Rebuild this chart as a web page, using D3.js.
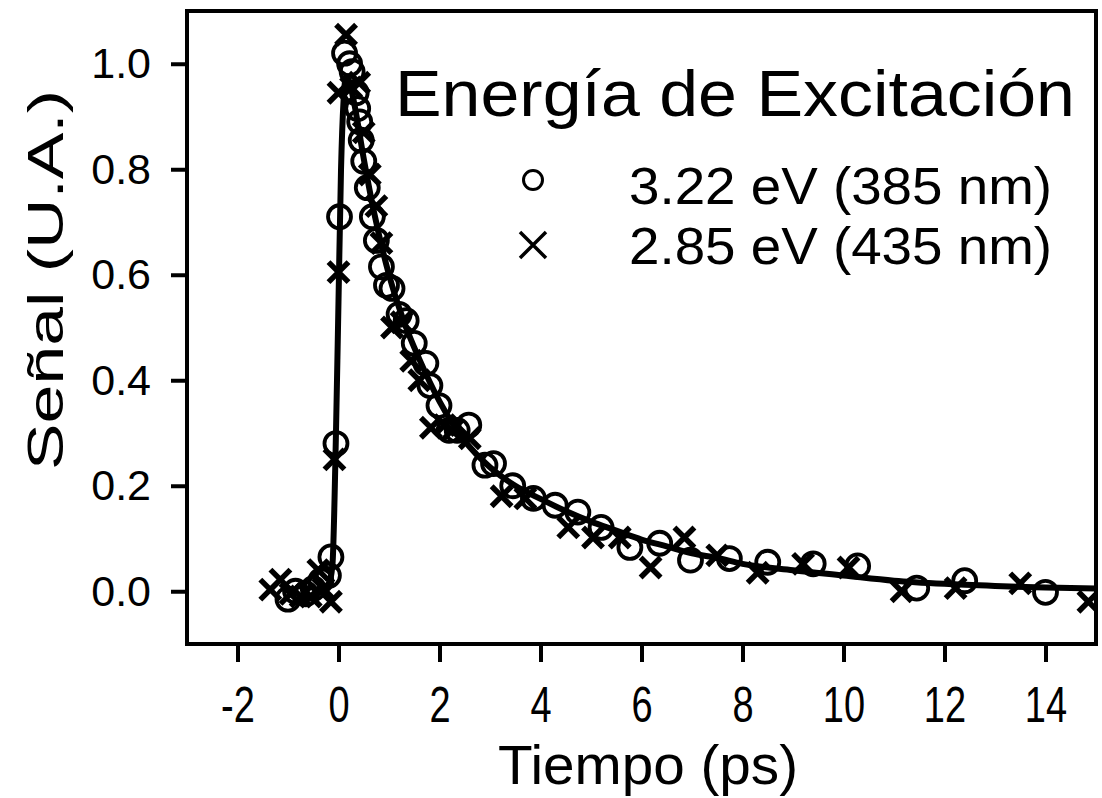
<!DOCTYPE html>
<html>
<head>
<meta charset="utf-8">
<script src="https://cdn.jsdelivr.net/npm/d3@7"></script>
<style>
  body { margin: 0; background: #fff; }
  svg text { font-family: "Liberation Sans", Arial, sans-serif; fill: #000; }
</style>
</head>
<body>
<svg id="chart" width="1102" height="798"></svg>
<script>
// 3.22 eV (385 nm) - circles
const circX = [-1.0, -0.85, -0.65, -0.5, -0.35, -0.2, -0.15, -0.05, 0.02, 0.12, 0.22, 0.27, 0.35, 0.38, 0.42, 0.45, 0.5, 0.57, 0.67, 0.75, 0.85, 0.95, 1.06, 1.2, 1.34, 1.5, 1.73, 1.81, 1.99, 2.19, 2.35, 2.58, 2.9, 3.07, 3.45, 3.86, 4.29, 4.74, 5.2, 5.77, 6.36, 6.97, 7.74, 8.5, 9.4, 10.28, 11.45, 12.4, 14.0];
const circY = [-0.015, 0.0, -0.005, 0.005, 0.02, 0.03, 0.065, 0.28, 0.71, 1.02, 1.0, 0.985, 0.945, 0.915, 0.89, 0.855, 0.815, 0.765, 0.71, 0.665, 0.615, 0.58, 0.574, 0.525, 0.513, 0.47, 0.432, 0.39, 0.352, 0.305, 0.305, 0.315, 0.239, 0.242, 0.2, 0.176, 0.163, 0.15, 0.121, 0.083, 0.091, 0.059, 0.062, 0.055, 0.052, 0.048, 0.006, 0.02, -0.002];

// 2.85 eV (435 nm) - crosses
const crossX = [-1.35, -1.15, -0.95, -0.75, -0.55, -0.4, -0.3, -0.15, -0.08, 0.0, 0.0, 0.15, 0.25, 0.41, 0.5, 0.62, 0.75, 0.85, 1.06, 1.25, 1.44, 1.6, 1.83, 2.1, 2.25, 2.6, 3.23, 3.7, 4.55, 5.04, 5.57, 6.18, 6.85, 7.5, 8.3, 9.2, 10.1, 11.15, 12.22, 13.5, 14.85];
const crossY = [0.003, 0.022, -0.005, -0.01, -0.01, 0.04, 0.005, -0.02, 0.25, 0.605, 0.945, 1.055, 0.955, 0.964, 0.87, 0.79, 0.73, 0.66, 0.5, 0.51, 0.437, 0.4, 0.31, 0.315, 0.305, 0.29, 0.18, 0.176, 0.121, 0.102, 0.102, 0.045, 0.102, 0.068, 0.035, 0.052, 0.045, 0.0, 0.006, 0.015, -0.02];

// fitted curve
const fitX = [-0.3, -0.2, -0.12, -0.05, 0.0, 0.05, 0.1, 0.15, 0.2, 0.3, 0.5, 0.7, 1.0, 1.3, 1.6, 2.0, 2.5, 3.0, 3.5, 4.0, 4.5, 5.0, 5.5, 6.0, 6.5, 7.0, 7.5, 8.0, 9.0, 10.0, 11.0, 12.0, 13.0, 14.0, 15.0];
const fitY = [0.0, 0.01, 0.05, 0.3, 0.55, 0.8, 0.93, 0.975, 0.97, 0.93, 0.82, 0.72, 0.6, 0.51, 0.44, 0.36, 0.285, 0.235, 0.2, 0.175, 0.152, 0.132, 0.115, 0.098, 0.085, 0.072, 0.063, 0.052, 0.04, 0.03, 0.02, 0.014, 0.01, 0.007, 0.005];

const xTicks = [-2, 0, 2, 4, 6, 8, 10, 12, 14];
const yTicks = [0.0, 0.2, 0.4, 0.6, 0.8, 1.0];
const legendLabels = ["3.22 eV (385 nm)", "2.85 eV (435 nm)"];

const svg = d3.select("#chart");
const margin = {left: 187, right: 6, top: 11, bottom: 154};
const width = 1102, height = 798;

const x = d3.scaleLinear().domain([-3, 15]).range([margin.left, width - margin.right]);
const y = d3.scaleLinear().domain([-0.1, 1.1]).range([height - margin.bottom, margin.top]);

const plot = svg.append("g");
plot.append("clipPath").attr("id", "clip")
  .append("rect")
  .attr("x", x(-3)).attr("y", y(1.1))
  .attr("width", x(15) - x(-3)).attr("height", y(-0.1) - y(1.1));

const marks = plot.append("g").attr("clip-path", "url(#clip)");

// fit line
const line = d3.line().x(d => x(d[0])).y(d => y(d[1])).curve(d3.curveMonotoneX);
marks.append("path")
  .datum(d3.zip(fitX, fitY))
  .attr("d", line)
  .attr("fill", "none")
  .attr("stroke", "#000")
  .attr("stroke-width", 6);

// circles
marks.append("g").selectAll("circle")
  .data(d3.zip(circX, circY))
  .join("circle")
  .attr("cx", d => x(d[0]))
  .attr("cy", d => y(d[1]))
  .attr("r", 11.5)
  .attr("fill", "none")
  .attr("stroke", "#000")
  .attr("stroke-width", 3.8);

// crosses
const cs = 10;
marks.append("g").selectAll("path")
  .data(d3.zip(crossX, crossY))
  .join("path")
  .attr("d", d => {
    const px = x(d[0]), py = y(d[1]);
    return `M${px - cs},${py - cs}L${px + cs},${py + cs}M${px - cs},${py + cs}L${px + cs},${py - cs}`;
  })
  .attr("stroke", "#000")
  .attr("stroke-width", 5.5)
  .attr("fill", "none");

// frame
plot.append("rect")
  .attr("x", x(-3)).attr("y", y(1.1))
  .attr("width", x(15) - x(-3)).attr("height", y(-0.1) - y(1.1))
  .attr("fill", "none")
  .attr("stroke", "#000")
  .attr("stroke-width", 4);

// axes
const xAxis = svg.append("g")
  .attr("transform", `translate(0,${y(-0.1)})`)
  .call(d3.axisBottom(x).tickValues(xTicks).tickSize(18).tickPadding(25).tickFormat(d => String(d)));
xAxis.select(".domain").remove();
xAxis.selectAll(".tick line").attr("stroke-width", 4);
xAxis.selectAll(".tick text")
  .attr("font-size", 50)
  .attr("font-family", "Liberation Sans, Arial, sans-serif")
  .attr("transform", "scale(0.76,1)");

const yAxis = svg.append("g")
  .attr("transform", `translate(${x(-3)},0)`)
  .call(d3.axisLeft(y).tickValues(yTicks).tickSize(16).tickPadding(20).tickFormat(d3.format(".1f")));
yAxis.select(".domain").remove();
yAxis.selectAll(".tick line").attr("stroke-width", 4);
yAxis.selectAll(".tick text")
  .attr("font-size", 43)
  .attr("font-family", "Liberation Sans, Arial, sans-serif");

// axis titles
svg.append("text")
  .attr("x", 498).attr("y", 784)
  .attr("font-size", 56)
  .attr("textLength", 300).attr("lengthAdjust", "spacingAndGlyphs")
  .text("Tiempo (ps)");

svg.append("text")
  .attr("transform", "translate(63,470) rotate(-90)")
  .attr("font-size", 50)
  .attr("textLength", 380).attr("lengthAdjust", "spacingAndGlyphs")
  .text("Señal (U.A.)");

// legend
svg.append("text")
  .attr("x", 395).attr("y", 116)
  .attr("font-size", 65)
  .attr("textLength", 680).attr("lengthAdjust", "spacingAndGlyphs")
  .text("Energía de Excitación");

const legendY = [204, 264];
svg.append("g").selectAll("text")
  .data(legendLabels)
  .join("text")
  .attr("x", 629)
  .attr("y", (d, i) => legendY[i])
  .attr("font-size", 52)
  .attr("textLength", 423).attr("lengthAdjust", "spacingAndGlyphs")
  .text(d => d);

svg.append("circle")
  .attr("cx", 533).attr("cy", 180).attr("r", 9.5)
  .attr("fill", "none").attr("stroke", "#000").attr("stroke-width", 3);
const lx = 533, ly = 245, ls = 13;
svg.append("path")
  .attr("d", `M${lx - ls},${ly - ls}L${lx + ls},${ly + ls}M${lx - ls},${ly + ls}L${lx + ls},${ly - ls}`)
  .attr("stroke", "#000").attr("stroke-width", 3.5);
</script>
</body>
</html>
